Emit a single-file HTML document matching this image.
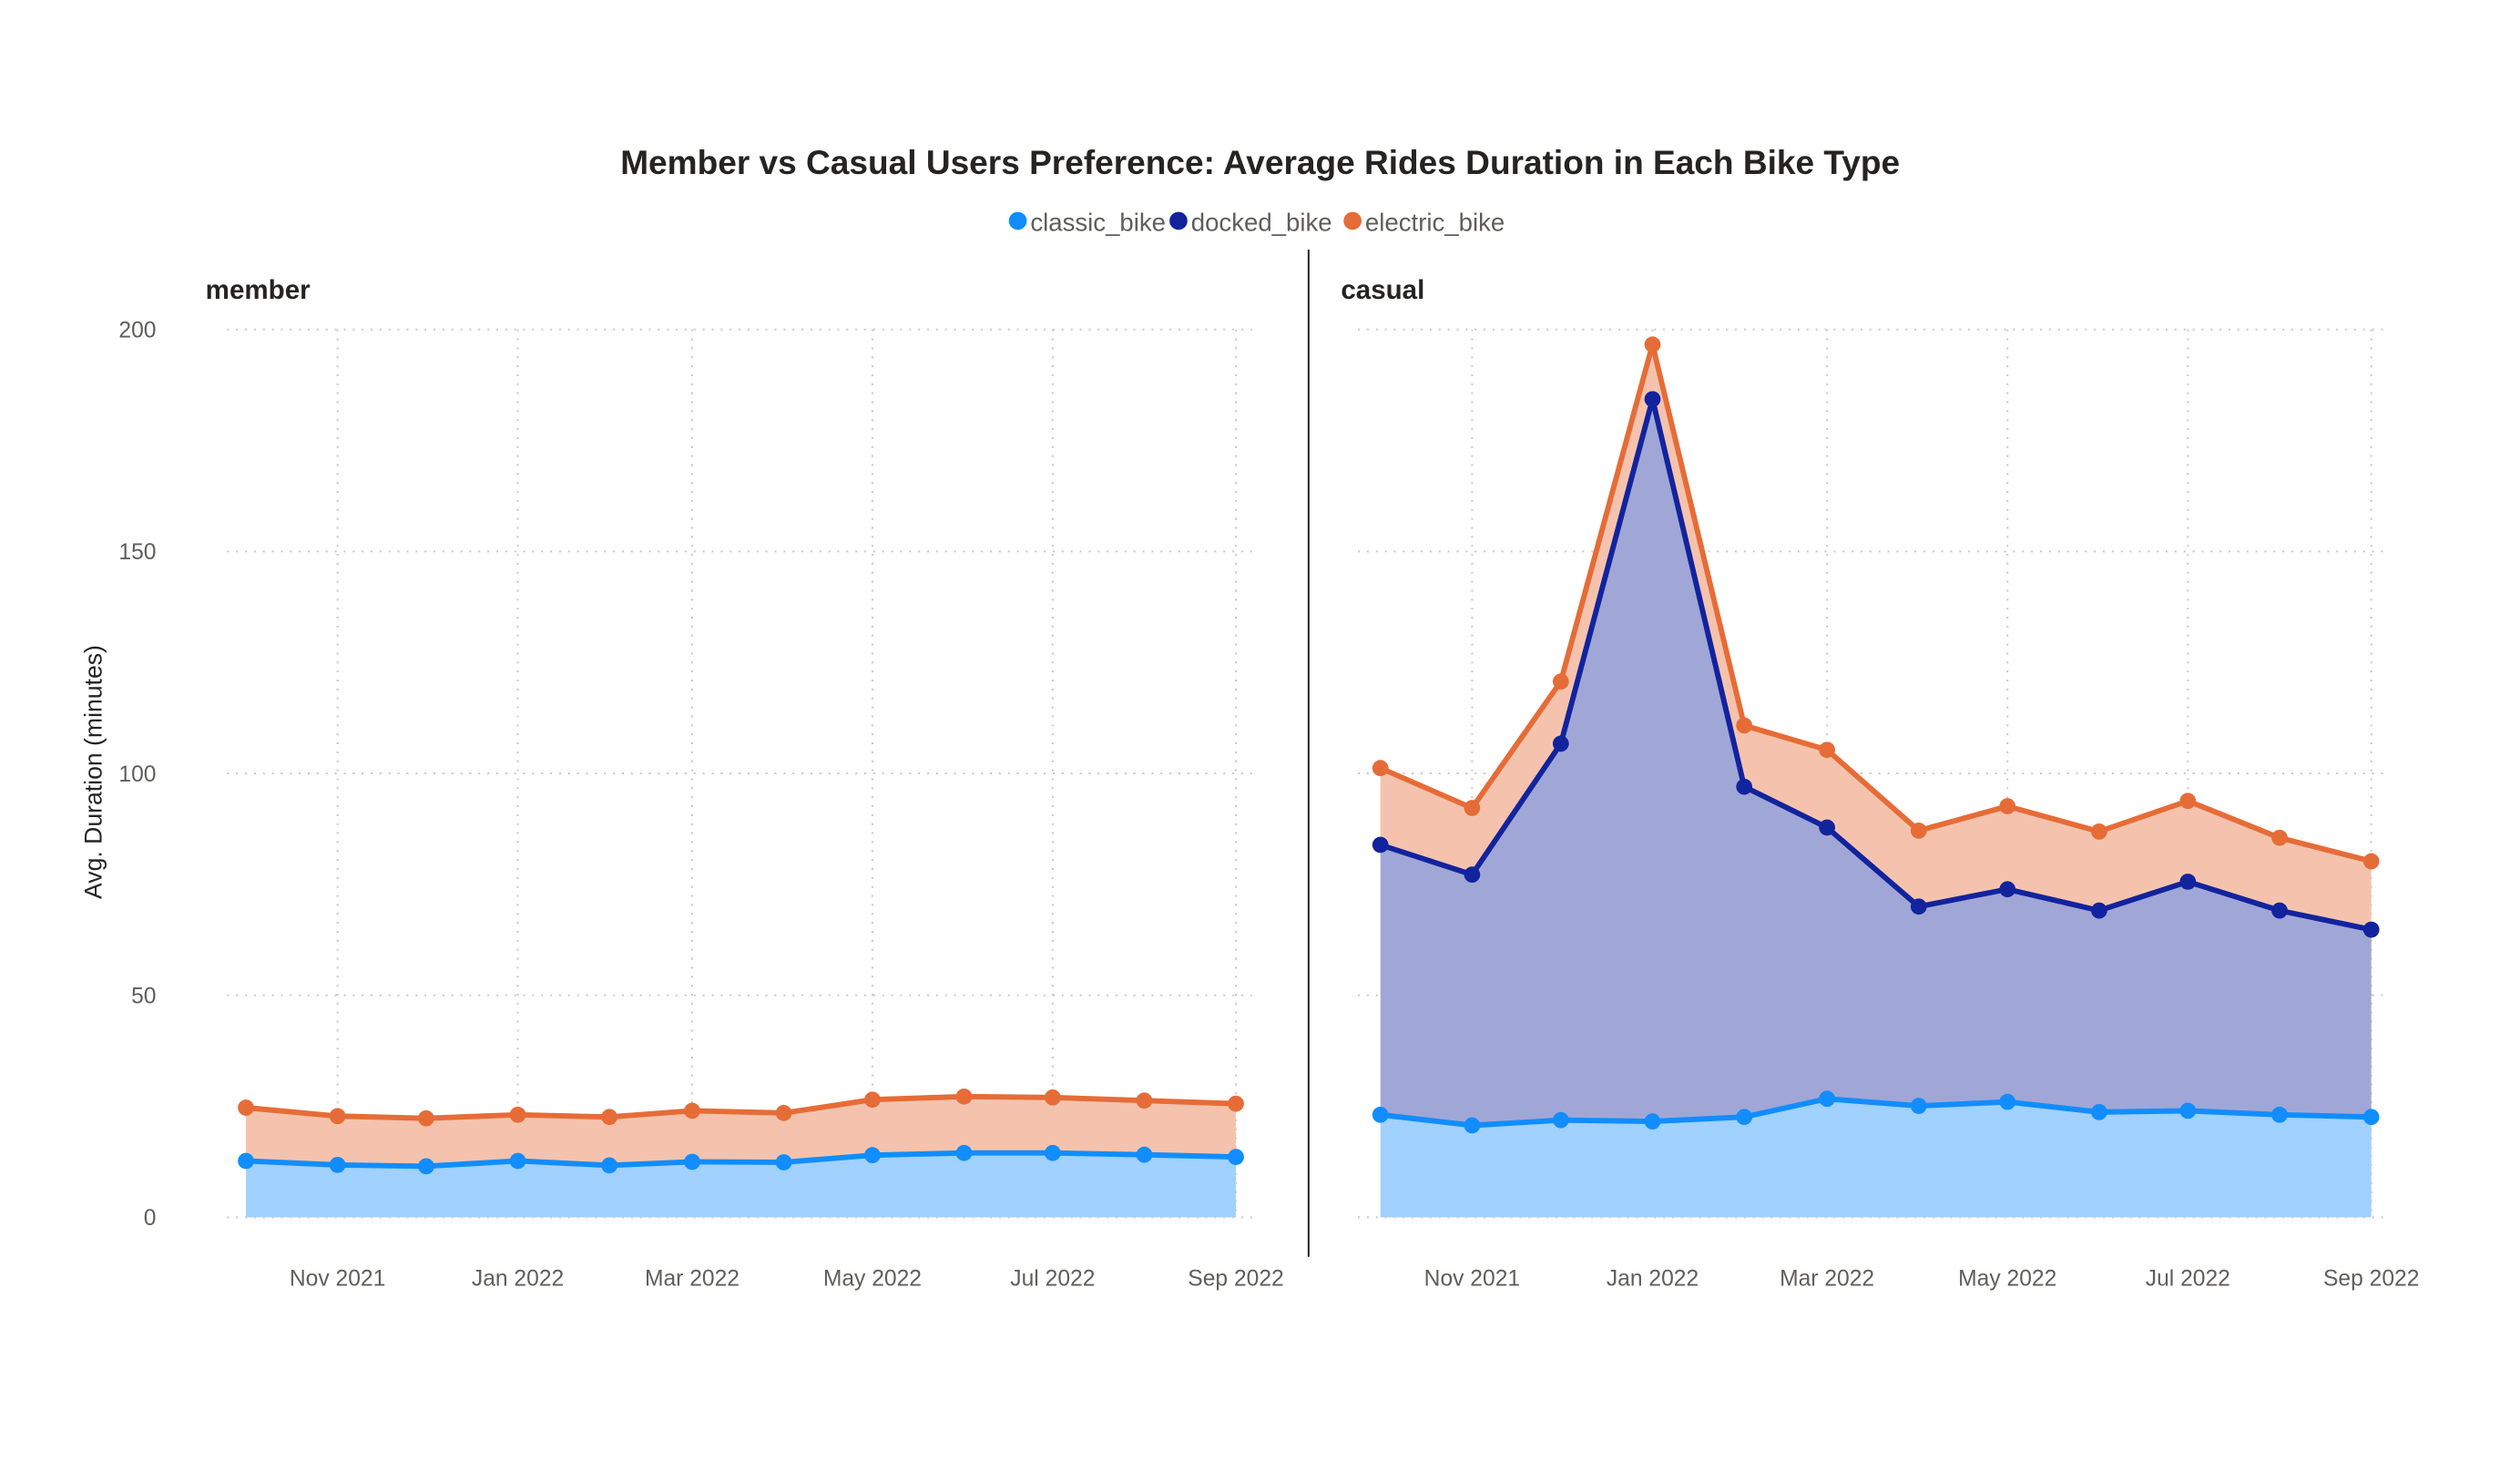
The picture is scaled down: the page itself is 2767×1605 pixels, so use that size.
<!DOCTYPE html>
<html>
<head>
<meta charset="utf-8">
<style>
  html,body{margin:0;padding:0;background:#fff;}
  body{width:2767px;height:1600px;overflow:hidden;font-family:"Liberation Sans",sans-serif;}
  svg text{font-family:"Liberation Sans",sans-serif;}
</style>
</head>
<body>
<svg id="chart" width="2767" height="1600" viewBox="0 0 2807.7 1623.5" preserveAspectRatio="none" xmlns="http://www.w3.org/2000/svg">
  <text x="1404" y="194" text-anchor="middle" font-size="37.6" font-weight="bold" fill="#252423">Member vs Casual Users Preference: Average Rides Duration in Each Bike Type</text>
  <g>
    <g><circle cx="1134" cy="246" r="10" fill="#118DFF"/><text x="1148" y="257" font-size="28" fill="#605E5C">classic_bike</text></g>
    <g><circle cx="1313" cy="246" r="10" fill="#12239E"/><text x="1327" y="257" font-size="28" fill="#605E5C">docked_bike</text></g>
    <g><circle cx="1507" cy="246" r="10" fill="#E66C37"/><text x="1521" y="257" font-size="28" fill="#605E5C">electric_bike</text></g>
  </g>
  <line x1="1458" y1="278" x2="1458" y2="1400" stroke="#252423" stroke-width="2"/>
  <text x="229" y="333" font-size="30" font-weight="bold" fill="#252423">member</text>
  <text x="1494" y="333" font-size="30" font-weight="bold" fill="#252423">casual</text>
  <text transform="translate(113,860) rotate(-90)" text-anchor="middle" font-size="27" fill="#252423">Avg. Duration (minutes)</text>
  <g id="plots"></g>
</svg>
<script>
const months = ["2021-10-01","2021-11-01","2021-12-01","2022-01-01","2022-02-01","2022-03-01","2022-04-01","2022-05-01","2022-06-01","2022-07-01","2022-08-01","2022-09-01"];
const memberClassic = [12.7,11.8,11.5,12.7,11.7,12.5,12.4,14.0,14.5,14.5,14.1,13.6];
const memberDocked = [0,0,0,0,0,0,0,0,0,0,0,0];
const memberElectric = [12.0,11.0,10.8,10.4,10.9,11.5,11.1,12.5,12.7,12.5,12.2,12.0];
const casualClassic = [23.1,20.7,21.9,21.6,22.6,26.7,25.1,26.0,23.7,24.0,23.1,22.6];
const casualDocked = [60.8,56.5,84.8,162.7,74.4,61.1,44.9,47.9,45.4,51.6,46.0,42.2];
const casualElectric = [17.3,15.0,14.0,12.3,13.8,17.5,17.1,18.7,17.8,18.2,16.4,15.4];
const yTicks = [0,50,100,150,200];
const xTickLabels = ["Nov 2021","Jan 2022","Mar 2022","May 2022","Jul 2022","Sep 2022"];
const xTickDates = ["2021-11-01","2022-01-01","2022-03-01","2022-05-01","2022-07-01","2022-09-01"];

const NS="http://www.w3.org/2000/svg";
const plots=document.getElementById('plots');
function mk(tag,attrs,parent){const e=document.createElementNS(NS,tag);for(const k in attrs)e.setAttribute(k,attrs[k]);(parent||plots).appendChild(e);return e;}
const Y0=1356, Y200=367;
function yScale(v){return Y0+(Y200-Y0)*v/200;}
function dayNum(s){return Date.parse(s)/86400000;}
const d0=dayNum(months[0]), d1=dayNum(months[months.length-1]);

function drawPanel(name,gx0,gx1,px0,px1,classic,docked,electric,showDocked,showYLabels){
  const xScale=s=>px0+(dayNum(s)-d0)/(d1-d0)*(px1-px0);
  const g=mk('g',{});
  
  
  yTicks.forEach(t=>{
    const l=mk('line',{x1:gx0,x2:gx1,y1:yScale(t),y2:yScale(t),stroke:'#C8C6C4','stroke-width':2,'stroke-dasharray':'2 8'},g);
    
    
    if(showYLabels){
      const tx=mk('text',{x:174,y:yScale(t)+9,'text-anchor':'end','font-size':25,fill:'#605E5C'},g);
      tx.textContent=t;
      
      
    }
  });
  xTickDates.forEach((d,i)=>{
    const x=xScale(d);
    const l=mk('line',{x1:x,x2:x,y1:Y200,y2:Y0,stroke:'#C8C6C4','stroke-width':2,'stroke-dasharray':'2 8'},g);
    
    
    const tx=mk('text',{x:x,y:1432,'text-anchor':'middle','font-size':25,fill:'#605E5C'},g);
    tx.textContent=xTickLabels[i];
    
    
  });
  const s1=classic.slice();
  const s2=classic.map((v,i)=>v+docked[i]);
  const s3=s2.map((v,i)=>v+electric[i]);
  function area(top,bot,fill,nm){
    let d='';
    months.forEach((m,i)=>{d+=(i?'L':'M')+xScale(m)+','+yScale(top[i]);});
    for(let i=months.length-1;i>=0;i--)d+='L'+xScale(months[i])+','+yScale(bot[i]);
    const p=mk('path',{d:d+'Z',fill:fill},g);
    
    
  }
  const zero=months.map(()=>0);
  area(s1,zero,'#A0D1FF',name+'-classic-area');
  if(showDocked) area(s2,s1,'#A0A7D6',name+'-docked-area');
  area(s3,s2,'#F5C3AD',name+'-electric-area');
  function line(vals,color,nm){
    const pts=months.map((m,i)=>xScale(m)+','+yScale(vals[i])).join(' ');
    const pl=mk('polyline',{points:pts,fill:'none',stroke:color,'stroke-width':6,'stroke-linejoin':'round'},g);
    
    
    months.forEach((m,i)=>{
      const c=mk('circle',{cx:xScale(m),cy:yScale(vals[i]),r:9,fill:color},g);
      
      
    });
  }
  line(s3,'#E66C37',name+'-electric');
  if(showDocked) line(s2,'#12239E',name+'-docked');
  line(s1,'#118DFF',name+'-classic');
}
drawPanel('member',253,1399,274,1377,memberClassic,memberDocked,memberElectric,false,true);
drawPanel('casual',1513,2663,1538,2642,casualClassic,casualDocked,casualElectric,true,false);
</script>
</body>
</html>
